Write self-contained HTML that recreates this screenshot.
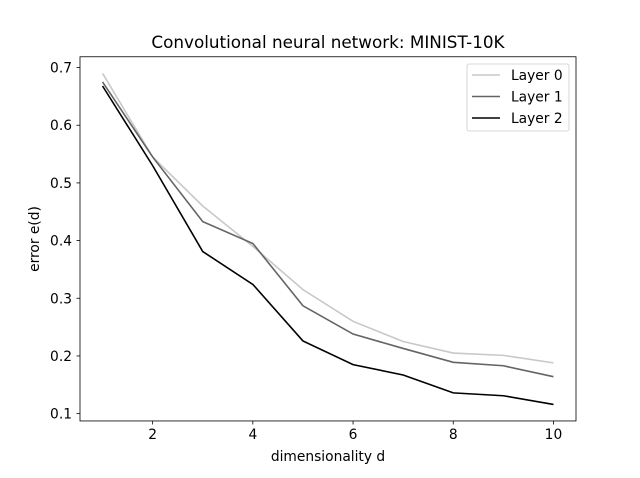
<!DOCTYPE html>
<html><head><meta charset="utf-8"><style>
body{margin:0;background:#fff}
text{font-family:"DejaVu Sans","Liberation Sans",sans-serif}
</style></head><body>
<svg id="chart" width="640" height="473" viewBox="0 0 640 473">
<rect width="640" height="473" fill="#fff"/>
<text x="328" y="48" font-size="16.8" text-anchor="middle">Convolutional neural network: MINIST-10K</text>
<g id="plot"></g>
<rect x="80" y="56.76" width="496" height="364.2" fill="none" stroke="#000" stroke-width="0.8"/>
<text x="328" y="461" font-size="13.8" text-anchor="middle">dimensionality d</text>
<text x="0" y="0" font-size="13.8" text-anchor="middle" transform="translate(39,239) rotate(-90)">error e(d)</text>
</svg>
<script>
const categories=[1,2,3,4,5,6,7,8,9,10];
const layer0=[0.69,0.545,0.46,0.39,0.315,0.26,0.225,0.205,0.201,0.188];
const layer1=[0.675,0.545,0.433,0.395,0.287,0.238,0.213,0.189,0.183,0.164];
const layer2=[0.668,0.53,0.381,0.324,0.226,0.185,0.167,0.136,0.131,0.116];
const xTicks=[2,4,6,8,10];
const yTicks=[0.1,0.2,0.3,0.4,0.5,0.6,0.7];
const seriesNames=["Layer 0","Layer 1","Layer 2"];
const NS="http://www.w3.org/2000/svg";
const L=80,R=576,T=56.76,B=420.96;
const all=layer0.concat(layer1,layer2);
const xmin=Math.min(...categories),xmax=Math.max(...categories),xp=(xmax-xmin)*0.05;
const ymin=Math.min(...all),ymax=Math.max(...all),yp=(ymax-ymin)*0.05;
const sx=v=>L+(v-(xmin-xp))/((xmax+xp)-(xmin-xp))*(R-L);
const sy=v=>B-(v-(ymin-yp))/((ymax+yp)-(ymin-yp))*(B-T);
const g=document.getElementById('plot');
function mk(t,a){const e=document.createElementNS(NS,t);for(const k in a)e.setAttribute(k,a[k]);g.appendChild(e);return e;}
xTicks.forEach(v=>{
 const l=mk('line',{x1:sx(v),x2:sx(v),y1:B,y2:B+3.5,stroke:'#000','stroke-width':0.8});
 
 
 const t=mk('text',{x:sx(v),y:B+18,'font-size':13.8,'text-anchor':'middle'});t.textContent=v;
 
 
});
yTicks.forEach(v=>{
 const l=mk('line',{x1:L-3.5,x2:L,y1:sy(v),y2:sy(v),stroke:'#000','stroke-width':0.8});
 
 
 const t=mk('text',{x:L-8,y:sy(v)+5,'font-size':13.8,'text-anchor':'end'});t.textContent=v.toFixed(1);
 
 
});
const colors=['#c8c8c8','#646464','#000000'];
[layer0,layer1,layer2].forEach((s,i)=>{
 const p=mk('polyline',{points:s.map((v,j)=>sx(categories[j])+','+sy(v)).join(' '),fill:'none',stroke:colors[i],'stroke-width':1.6});
 
 
});
const lg=mk('rect',{x:467,y:64,width:102,height:67,rx:2,fill:'#fff','fill-opacity':0.8,stroke:'#ccc','stroke-width':0.8});


seriesNames.forEach((n,i)=>{
 const y=75+i*21.5;
 const l=mk('line',{x1:472,x2:500,y1:y,y2:y,stroke:colors[i],'stroke-width':1.6});
 
 
 const t=mk('text',{x:511,y:y+5,'font-size':13.8});t.textContent=n;
 
 
});
</script>
</body></html>
